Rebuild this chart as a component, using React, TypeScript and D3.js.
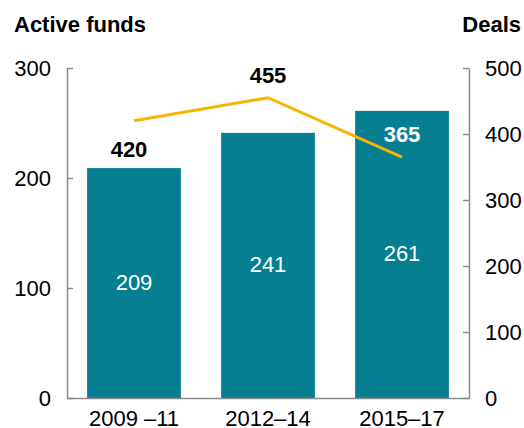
import React, { useEffect, useRef } from 'react';
import * as d3 from 'd3';

const periods = ['2009 \u201311', '2012\u201314', '2015\u201317'];
const activeFunds = [209, 241, 261];
const deals = [420, 455, 365];
const leftTicks = [0, 100, 200, 300];
const rightTicks = [0, 100, 200, 300, 400, 500];

const W = 524;
const H = 428;

const App = () => {
  const ref = useRef<SVGSVGElement>(null);

  useEffect(() => {
    const margin = { top: 68, right: 55, bottom: 30, left: 67 };
    const width = W - margin.left - margin.right;
    const height = H - margin.top - margin.bottom;

    const svg = d3.select(ref.current);
    svg.selectAll('*').remove();
    svg.style('font-family', '"Liberation Sans", Arial, sans-serif');

    const chart = svg.append('g').attr('transform', `translate(${margin.left},${margin.top})`);

    const x = d3.scaleBand<string>().domain(periods).range([0, width]).paddingInner(0.3).paddingOuter(0.15);
    const yL = d3.scaleLinear().domain([0, 300]).range([height, 0]);
    const yR = d3.scaleLinear().domain([0, 500]).range([height, 0]);

    const axisColor = '#8c8c8c';
    const fs = 22;

    // bars
    chart
      .selectAll('rect.bar')
      .data(activeFunds)
      .enter()
      .append('rect')
      .attr('class', 'bar')
      .attr('x', (d, i) => x(periods[i])!)
      .attr('y', (d) => yL(d))
      .attr('width', x.bandwidth())
      .attr('height', (d) => height - yL(d))
      .attr('fill', '#067f92');

    // bar labels
    chart
      .selectAll('text.barlab')
      .data(activeFunds)
      .enter()
      .append('text')
      .attr('class', 'barlab')
      .attr('x', (d, i) => x(periods[i])! + x.bandwidth() / 2)
      .attr('y', (d) => (yL(d) + height) / 2 + 7)
      .attr('text-anchor', 'middle')
      .attr('fill', '#fff')
      .attr('font-size', fs)
      .text((d) => d);

    // left axis
    const left = chart
      .append('g')
      .call(d3.axisLeft(yL).tickValues(leftTicks).tickSizeInner(-6).tickSizeOuter(0).tickPadding(16));
    // right axis
    const right = chart
      .append('g')
      .attr('transform', `translate(${width},0)`)
      .call(d3.axisRight(yR).tickValues(rightTicks).tickSizeInner(-6).tickSizeOuter(0).tickPadding(16));

    [left, right].forEach((g) => {
      g.select('.domain').attr('stroke', axisColor).attr('stroke-width', 1.5);
      g.selectAll('.tick line').attr('stroke', axisColor).attr('stroke-width', 1.5);
      g.selectAll('.tick text')
        .attr('font-size', fs)
        .attr('font-family', '"Liberation Sans", Arial, sans-serif')
        .attr('fill', '#000')
        .attr('dy', '0.36em');
    });

    // bottom axis
    const bottom = chart
      .append('g')
      .attr('transform', `translate(0,${height})`)
      .call(d3.axisBottom(x).tickSize(0).tickPadding(12));
    bottom.select('.domain').attr('stroke', axisColor).attr('stroke-width', 1.5);
    bottom
      .selectAll('.tick text')
      .attr('font-size', fs)
      .attr('font-family', '"Liberation Sans", Arial, sans-serif')
      .attr('fill', '#000')
      .attr('dy', '0.72em');

    // deals line
    const line = d3
      .line<number>()
      .x((d, i) => x(periods[i])! + x.bandwidth() / 2)
      .y((d) => yR(d));
    chart
      .append('path')
      .datum(deals)
      .attr('d', line)
      .attr('fill', 'none')
      .attr('stroke', '#f7b500')
      .attr('stroke-width', 3);

    // deals labels: first sits below the line, the rest above
    chart
      .selectAll('text.deallab')
      .data(deals)
      .enter()
      .append('text')
      .attr('class', 'deallab')
      .attr('x', (d, i) => x(periods[i])! + x.bandwidth() / 2 + (i === 0 ? -5 : 0))
      .attr('y', (d, i) => yR(d) + (i === 0 ? 36 : -15))
      .attr('text-anchor', 'middle')
      .attr('font-weight', 'bold')
      .attr('font-size', fs)
      .attr('fill', (d, i) => (i === 2 ? '#fff' : '#000'))
      .text((d) => d);

    // axis titles
    svg
      .append('text')
      .attr('x', 14)
      .attr('y', 32)
      .attr('font-weight', 'bold')
      .attr('font-size', fs)
      .text('Active funds');
    svg
      .append('text')
      .attr('x', W - 3)
      .attr('y', 32)
      .attr('text-anchor', 'end')
      .attr('font-weight', 'bold')
      .attr('font-size', fs)
      .text('Deals');
  }, []);

  return <svg ref={ref} width={W} height={H} style={{ position: 'absolute', left: 0, top: 0 }}></svg>;
};

export default App;
